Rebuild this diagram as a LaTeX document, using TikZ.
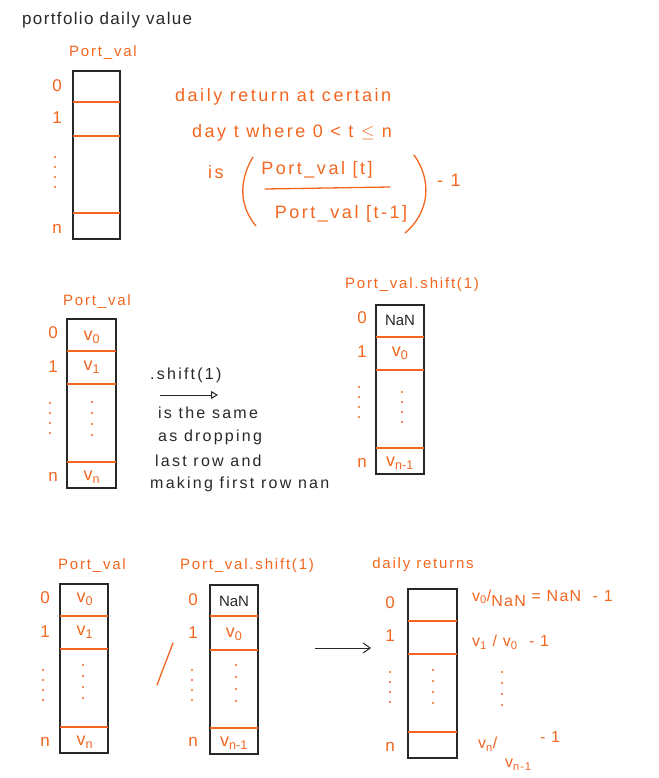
\documentclass[tikz,border=0pt]{standalone}
\usepackage{fontspec}
\setmainfont{Liberation Sans}
\newfontfamily\handA{Liberation Sans}[LetterSpace=14]
\newfontfamily\handB{Liberation Sans}[LetterSpace=12]
\newfontfamily\handC{Liberation Sans}[LetterSpace=8]
\usetikzlibrary{arrows.meta}
\definecolor{pen}{RGB}{242,102,32}
\definecolor{ink}{RGB}{40,40,40}

\begin{document}
\begin{tikzpicture}[x=1pt,y=-1pt,inner sep=0pt,
	box/.style={draw=ink,line width=2.3pt},
	rowline/.style={draw=pen,line width=1.3pt},
	lbl/.style={text=pen,font=\handA\fontsize{18}{21}\selectfont},
	idx/.style={text=pen,font=\fontsize{17}{20}\selectfont},
	small/.style={text=pen,font=\handB\fontsize{15}{18}\selectfont},
	note/.style={text=ink,font=\handA\fontsize{16}{19}\selectfont,anchor=west},
	cell/.style={text=pen,font=\fontsize{18}{20}\selectfont},
	nan/.style={text=ink,font=\fontsize{15}{18}\selectfont},
	rtext/.style={text=pen,font=\handC\fontsize{16}{19}\selectfont,anchor=west}]
	\useasboundingbox[fill=white] (0,0) rectangle (658,778);

	% portfolio daily value
	\node[note,font=\handC\fontsize{17}{20}\selectfont] (title) at (22,20) {portfolio daily value};
	\node[small] (pv1) at (103,53) {Port\_val};
	\draw[box] (73,71) rectangle (120,239);
	\begin{scope}[rowline]
	\draw (73,102) -- (120,102);
	\draw (73,136) -- (120,136);
	\draw (73,213) -- (120,213);
	\end{scope}
	\path node[idx] (a0) at (57,86) {0}
	node[idx] (a1) at (57,118) {1}
	node[idx] (an) at (57,229) {n};
	\foreach \d in {0,1,2,3} \fill[pen] (55,157+10*\d) circle (1.1pt);

	% formula
	\node[lbl,anchor=west] (ret1) at (175,97) {daily return at certain};
	\node[lbl,anchor=west] (ret2) at (192,133) {day t where 0 < t $\leq$ n};
	\node[lbl,anchor=west] (ret3) at (208,172) {is};
	\node[lbl] (num) at (317,170) {Port\_val [t]};
	\node[lbl] (den) at (341,214) {Port\_val [t-1]};
	\node[lbl,anchor=west] (minus1) at (437,180) {- 1};
	\begin{scope}[draw=pen,line width=1.3pt,line cap=round]
	\draw (265,189) -- (390,187);
	\draw (253,157) .. controls (238,182) and (240,207) .. (256,226);
	\draw (414,155) .. controls (432,180) and (430,212) .. (405,233);
	\end{scope}

	% shift(1)
	\node[small] (pv2) at (97,302) {Port\_val};
	\draw[box] (67,319) rectangle (116,488);
	\begin{scope}[rowline]
	\draw (67,351) -- (116,351);
	\draw (67,384) -- (116,384);
	\draw (67,462) -- (116,462);
	\end{scope}
	\path node[idx] (b0) at (53,333) {0}
	node[idx] (b1) at (53,367) {1}
	node[idx] (bn) at (53,477) {n}
	node[cell] (bv0) at (92,337) {v\textsubscript{0}}
	node[cell] (bv1) at (92,367) {v\textsubscript{1}}
	node[cell] (bvn) at (92,477) {v\textsubscript{n}};
	\foreach \d in {0,1,2,3} {
		\fill[pen] (50,403+10*\d) circle (1.1pt);
		\fill[pen] (92,402+11*\d) circle (1.1pt);
	}
	\node[note] (shift) at (150,375) {.shift(1)};
	\coordinate (s1) at (160,395);
	\coordinate (s2) at (218,395);
	\draw[ink,line width=1pt,-{Triangle[open,length=7pt,width=8pt]}] (s1) -- (s2);
	\node[note] (same1) at (158,413) {is the same};
	\node[note] (same2) at (158,437) {as dropping};
	\node[note] (same3) at (155,461) {last row and};
	\node[note] (same4) at (150,484) {making first row nan};

	\node[small] (pvs2) at (412,285) {Port\_val.shift(1)};
	\draw[box] (376,305) rectangle (424,474);
	\begin{scope}[rowline]
	\draw (376,337) -- (424,337);
	\draw (376,370) -- (424,370);
	\draw (376,448) -- (424,448);
	\end{scope}
	\path node[idx] (c0) at (362,318) {0}
	node[idx] (c1) at (362,352) {1}
	node[idx] (cn) at (362,463) {n}
	node[nan] (cnan) at (400,320) {NaN}
	node[cell] (cv0) at (400,353) {v\textsubscript{0}}
	node[cell] (cvn) at (400,463) {v\textsubscript{n-1}};
	\foreach \d in {0,1,2,3} {
		\fill[pen] (359,387+10*\d) circle (1.1pt);
		\fill[pen] (402,392+10*\d) circle (1.1pt);
	}

	% daily returns
	\node[small] (pv3) at (92,566) {Port\_val};
	\draw[box] (60,584) rectangle (108,753);
	\begin{scope}[rowline]
	\draw (60,616) -- (108,616);
	\draw (60,649) -- (108,649);
	\draw (60,727) -- (108,727);
	\end{scope}
	\path node[idx] (d0) at (45,598) {0}
	node[idx] (d1) at (45,632) {1}
	node[idx] (dn) at (45,742) {n}
	node[cell] (dv0) at (85,599) {v\textsubscript{0}}
	node[cell] (dv1) at (85,632) {v\textsubscript{1}}
	node[cell] (dvn) at (85,742) {v\textsubscript{n}};
	\foreach \d in {0,1,2,3} {
		\fill[pen] (43,670+10*\d) circle (1.1pt);
		\fill[pen] (83,665+11*\d) circle (1.1pt);
	}
	\draw[pen,line width=1.3pt,line cap=round] (157,685) -- (173,643);

	\node[small] (pvs3) at (247,566) {Port\_val.shift(1)};
	\draw[box] (210,585) rectangle (258,754);
	\begin{scope}[rowline]
	\draw (210,616) -- (258,616);
	\draw (210,650) -- (258,650);
	\draw (210,728) -- (258,728);
	\end{scope}
	\path node[idx] (e0) at (193,600) {0}
	node[idx] (e1) at (193,633) {1}
	node[idx] (en) at (193,742) {n}
	node[nan] (enan) at (234,601) {NaN}
	node[cell] (ev0) at (234,634) {v\textsubscript{0}}
	node[cell] (evn) at (234,743) {v\textsubscript{n-1}};
	\foreach \d in {0,1,2,3} {
		\fill[pen] (192,670+10*\d) circle (1.1pt);
		\fill[pen] (236,665+12*\d) circle (1.1pt);
	}
	\coordinate (r1) at (315,648);
	\coordinate (r2) at (371,648);
	\draw[ink,line width=1pt,-{Straight Barb[open,length=7pt,width=10pt]}] (r1) -- (r2);

	\node[small] (ret) at (423,565) {daily returns};
	\draw[box] (408,589) rectangle (457,758);
	\begin{scope}[rowline]
	\draw (408,621) -- (457,621);
	\draw (408,654) -- (457,654);
	\draw (408,732) -- (457,732);
	\end{scope}
	\path node[idx] (f0) at (390,603) {0}
	node[idx] (f1) at (390,636) {1}
	node[idx] (fn) at (390,747) {n};
	\foreach \d in {0,1,2,3} {
		\fill[pen] (390,672+10*\d) circle (1.1pt);
		\fill[pen] (433,670+11*\d) circle (1.1pt);
		\fill[pen] (502,672+11*\d) circle (1.1pt);
	}
	\node[rtext] (g0) at (472,598) {v\textsubscript{0}/\raisebox{-0.6ex}{NaN} = NaN \ - 1};
	\node[rtext] (g1) at (472,642) {v\textsubscript{1} / v\textsubscript{0} \ - 1};
	\node[rtext] (gn) at (478,744) {v\textsubscript{n}/};
	\node[rtext] (gn1) at (505,765) {v\textsubscript{n-1}};
	\node[rtext] (gm) at (540,737) {- 1};
\end{tikzpicture}
\end{document}
